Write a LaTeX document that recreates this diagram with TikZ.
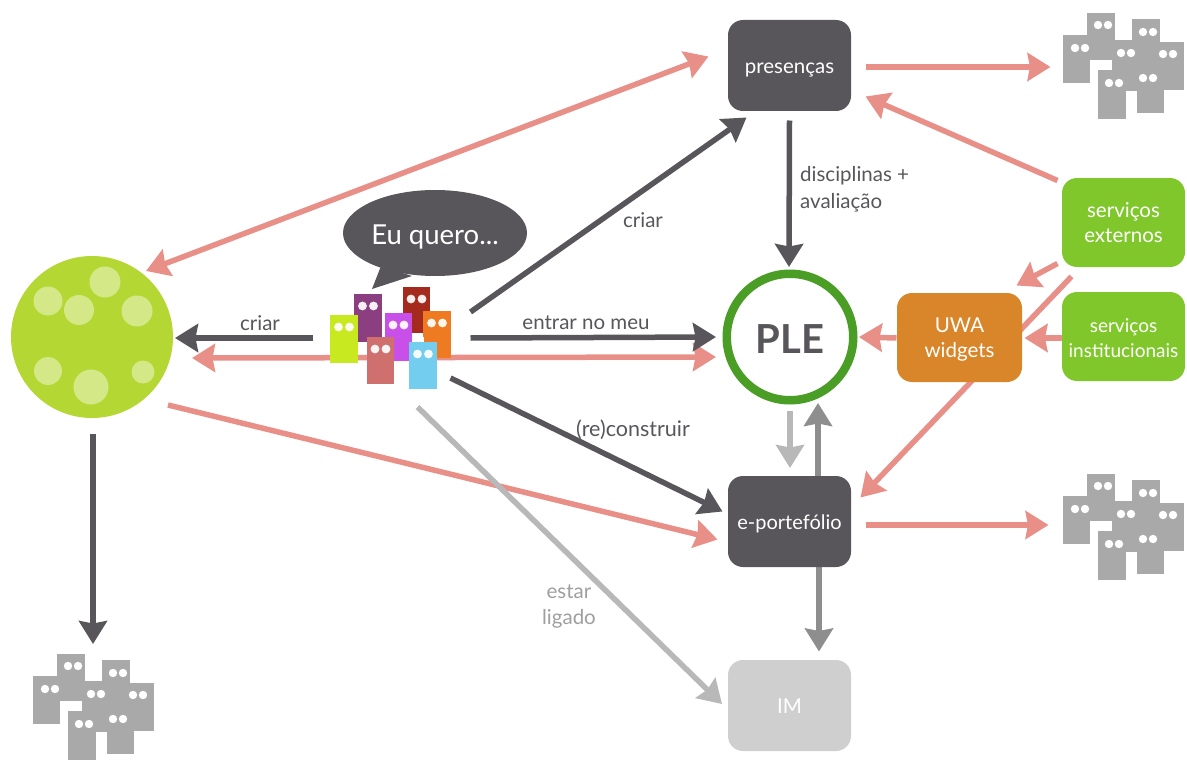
\documentclass[tikz,border=0pt]{standalone}
\usepackage{fontspec}
\setmainfont{Lato}
\usetikzlibrary{arrows.meta,calc,backgrounds,shapes.geometric}
\definecolor{pinkarrow}{HTML}{E88F88}
\definecolor{darkslate}{HTML}{58565B}
\definecolor{midgray}{HTML}{8E8E8E}
\definecolor{lightgray2}{HTML}{B8B8B8}
\definecolor{crowdgray}{HTML}{A9A9A9}
\definecolor{greenbox}{HTML}{7FC72A}
\definecolor{orangebox}{HTML}{D9862A}
\definecolor{imbox}{HTML}{CFCFCF}
\definecolor{globegreen}{HTML}{B5D733}
\definecolor{spotgreen}{HTML}{D4E888}
\definecolor{plegreen}{HTML}{4A9E26}
\definecolor{pPurple}{HTML}{8B3F80}
\definecolor{pRed}{HTML}{A52A1E}
\definecolor{pMagenta}{HTML}{C84FE8}
\definecolor{pOrange}{HTML}{EE7B22}
\definecolor{pLime}{HTML}{C8E820}
\definecolor{pPink}{HTML}{CF6F6E}
\definecolor{pBlue}{HTML}{72CDEE}
\newcommand{\cardtext}[1]{\raisebox{-8pt}[0pt][0pt]{\begin{tabular}{@{}c@{}}#1\end{tabular}}}
\tikzset{
  card/.style={rectangle,rounded corners=15pt,minimum width=123pt,minimum height=91pt,inner sep=0pt,align=center,text=white,font=\fontsize{20.5}{25}\selectfont},
  anchorbox/.style={rectangle,inner sep=0pt,minimum width=#1},
  arrowbase/.style={line width=5.5pt,-{Stealth[length=23pt,width=28pt,inset=2.5pt]}},
  bothtips/.style={{Stealth[length=23pt,width=28pt,inset=2.5pt]}-{Stealth[length=23pt,width=28pt,inset=2.5pt]}},
  pinkline/.style={arrowbase,draw=pinkarrow},
  darkline/.style={arrowbase,draw=darkslate},
  grayline/.style={arrowbase,draw=midgray},
  paleline/.style={arrowbase,draw=lightgray2},
  lab/.style={text=darkslate,font=\fontsize{20.5}{27}\selectfont,inner sep=0pt,align=left},
  spot/.style={fill=spotgreen,draw=none}
}
\newcommand{\person}[5]{%
  \fill[#5] (#1,#2) rectangle (#3,#4);
  \fill[white!92!#5] ({(#1+#3)/2-5.5},{#2+12}) circle (4.4) ({(#1+#3)/2+5.5},{#2+12}) circle (4.4);}
\newcommand{\crowd}[2]{%
 \begin{scope}[shift={(#1,#2)}]
  \fill[crowdgray] (24,0) rectangle (52,47);
  \fill[crowdgray] (0,22) rectangle (27,70);
  \fill[crowdgray] (69,6) rectangle (97,50);
  \fill[crowdgray] (49,27) rectangle (97,78);
  \fill[crowdgray] (94,29) rectangle (121,77);
  \fill[crowdgray] (35,57) rectangle (63,106);
  \fill[crowdgray] (74,60) rectangle (101,100);
  \fill[white] (29,49) rectangle (47,57);
  \foreach \ex/\ey in {40/12,85/19,17/35,63/40,105/41,51/70,85/65}{
    \fill[white] ({\ex-5},\ey) circle (4.2) ({\ex+5},\ey) circle (4.2);}
 \end{scope}}
\begin{document}
\begin{tikzpicture}[x=1pt,y=-1pt]
\useasboundingbox (0,0) rectangle (1187,760);
% anchors for the crowds
\node[anchorbox=121pt,minimum height=106pt] (crowdA) at (1123.5,66) {};
\node[anchorbox=121pt,minimum height=106pt] (crowdB) at (1123.5,527) {};
\node[anchorbox=121pt,minimum height=106pt] (crowdC) at (93,707) {};
\node[anchorbox=121pt,minimum height=102pt] (people) at (390.5,338) {};
% cards
\node[card,fill=darkslate] (pres) at (789.5,65.5) {\cardtext{presenças}};
\node[card,fill=darkslate,font=\fontsize{20}{25}\selectfont] (port) at (789.5,521.5) {\cardtext{e-portefólio}};
\node[card,fill=imbox] (im) at (789.5,705.5) {\cardtext{IM}};
\node[card,fill=orangebox,minimum width=125pt,minimum height=89pt] (uwa) at (959.5,337.5) {\cardtext{UWA\\widgets}};
\node[card,fill=greenbox,minimum height=89pt] (ext) at (1123.5,222.5) {\cardtext{serviços\\externos}};
\node[card,fill=greenbox,minimum height=89pt,font=\fontsize{19}{25}\selectfont] (inst) at (1123.5,336.5) {\cardtext{serviços\\institucionais}};
% PLE and globe
\node[circle,draw=plegreen,line width=8.5pt,fill=white,minimum size=126.5pt,inner sep=0pt,text=darkslate,font=\fontsize{40}{40}\selectfont\bfseries] (ple) at (790,337) {\raisebox{-16.5pt}[0pt][0pt]{PLE}};
\node[circle,fill=globegreen,minimum size=162pt,inner sep=0pt] (globe) at (92,337) {};
\fill[spot] (105,282) circle (15.5) (48,301) circle (14.5) (79,310) circle (15) (137,311) circle (15.5) (48,371) circle (14) (91,387) circle (17.5) (143,372) circle (11.5);
% crowds
\crowd{1063}{13}
\crowd{1063}{474}
\crowd{33}{654}
% speech bubble
\fill[darkslate] (381,266) -- (372,289) -- (412,276) -- cycle;
\node[ellipse,fill=darkslate,minimum width=184pt,minimum height=86pt,inner sep=0pt,text=white,font=\fontsize{27.5}{27.5}\selectfont] (bubble) at (435,233) {\raisebox{-11pt}[0pt][0pt]{Eu quero...}};
% people
\person{354}{294}{382}{342}{pPurple}
\person{403}{287}{430}{333}{pRed}
\person{385}{313}{412}{361}{pMagenta}
\person{423}{311}{451}{358}{pOrange}
\person{330}{315}{358}{363}{pLime}
\person{367}{337}{394}{384}{pPink}
\fill[white] (415,337) rectangle (424,343);
\person{409}{342}{437}{389}{pBlue}
% labels
\node[lab] (l1) at (260,323) {criar};
\node[lab] (l2) at (586,323) {entrar no meu};
\node[lab] (l3) at (643,220) {criar};
\node[lab,anchor=west] (l4) at (800,176) {disciplinas +};
\node[lab,anchor=west] (l5) at (800,203) {avaliação};
\node[lab,font=\fontsize{21.5}{27}\selectfont] (l6) at (633,430) {(re)construir};
\node[lab,text=midgray!85!white] (l7) at (569,592) {estar};
\node[lab,text=midgray!85!white] (l8) at (569,619) {ligado};
% connectors
\begin{pgfonlayer}{background}
\draw[pinkline,bothtips] ($(globe)+(54,-66)$) -- ($(pres)+(-81,-9)$);
\draw[pinkline] ($(pres)+(76,1.5)$) -- ($(crowdA)+(-73,1)$);
\draw[pinkline] ($(ext)+(-66,-42)$) -- ($(pres)+(76,31)$);
\draw[pinkline] ($(ext)+(-66,41)$) -- ($(uwa)+(57,-52)$);
\draw[pinkline] ($(ext)+(-52,54)$) -- ($(port)+(71,-24)$);
\draw[pinkline] ($(inst)+(-62,1.5)$) -- ($(uwa)+(65,0.5)$);
\draw[pinkline] ($(uwa)+(-63,0.5)$) -- ($(ple)+(69,0)$);
\draw[pinkline,bothtips] ($(globe)+(100,21)$) -- ($(ple)+(-74,20)$);
\draw[pinkline] ($(globe)+(76,68)$) -- ($(port)+(-72,18)$);
\draw[pinkline] ($(port)+(76,3.5)$) -- ($(crowdB)+(-75,-2)$);
\draw[darkline] ($(people)+(-78,0)$) -- ($(globe)+(83,1)$);
\draw[darkline] ($(people)+(80,-26)$) -- ($(pres)+(-43,52)$);
\draw[darkline] ($(people)+(80,0)$) -- ($(ple)+(-74,0)$);
\draw[darkline] ($(people)+(60,40)$) -- ($(port)+(-67,-10)$);
\draw[darkline] ($(pres)+(0,55)$) -- ($(ple)+(-1,-70)$);
\draw[darkline] ($(globe)+(1,97)$) -- ($(crowdC)+(0,-63)$);
\draw[paleline] ($(ple)+(0,74)$) -- ($(port)+(0.5,-53.5)$);
\draw[grayline] ($(port)+(28.5,-45)$) -- ($(ple)+(28,66)$);
\draw[grayline] ($(port)+(29.5,45)$) -- ($(im)+(29.5,-54)$);
\draw[paleline] ($(people)+(27,69)$) -- ($(im)+(-67.5,-1.5)$);
\end{pgfonlayer}
\end{tikzpicture}
\end{document}
